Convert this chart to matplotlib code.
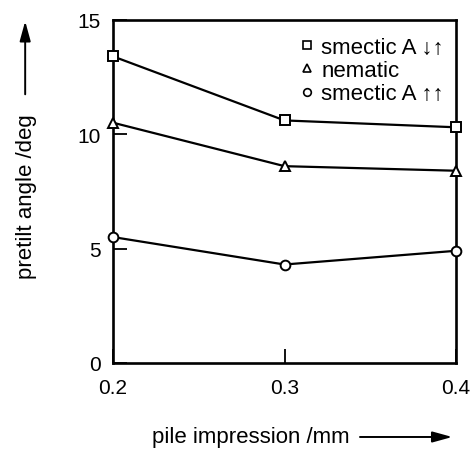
import matplotlib
matplotlib.use("Agg")
import matplotlib.pyplot as plt
from matplotlib.patches import FancyArrowPatch

plt.rcParams['font.family'] = ['Liberation Sans', 'DejaVu Sans']

pile = [0.2, 0.3, 0.4]
smectic_anti = [13.4, 10.6, 10.3]
nematic = [10.5, 8.6, 8.4]
smectic_para = [5.5, 4.3, 4.9]

labels = ['smectic A \u2193\u2191', 'nematic', 'smectic A \u2191\u2191']

fig = plt.figure(figsize=(4.75, 4.52), dpi=100)
ax = fig.add_axes([0.238, 0.195, 0.722, 0.759])

style = dict(color='black', lw=1.6, mfc='white', mec='black', mew=1.4, ms=7,
             clip_on=False, zorder=3)
ax.plot(pile, smectic_anti, marker='s', **style)
ax.plot(pile, nematic, marker='^', **style)
ax.plot(pile, smectic_para, marker='o', **style)

ax.set_xlim(0.2, 0.4)
ax.set_ylim(0, 15)
ax.set_xticks([0.2, 0.3, 0.4])
ax.set_xticklabels(['0.2', '0.3', '0.4'])
ax.set_yticks([0, 5, 10, 15])
ax.tick_params(direction='in', length=10, width=1.3, labelsize=15)
ax.tick_params(axis='y', pad=9)
ax.tick_params(axis='x', pad=11)
for s in ax.spines.values():
    s.set_linewidth(1.9)

# markers only in the legend
h = [plt.Line2D([], [], ls='none', marker=m, mfc='white', mec='black', mew=1.2, ms=5.5)
     for m in ['s', '^', 'o']]
ax.legend(h, labels, loc='upper right', bbox_to_anchor=(0.965, 0.95),
          frameon=False, fontsize=16, handletextpad=0.3, labelspacing=0.1,
          borderaxespad=0.0, borderpad=0.0, handlelength=0.7)

fig.text(0.055, 0.564, 'pretilt angle /deg', rotation=90, ha='center',
         va='center', fontsize=16)
fig.text(0.528, 0.031, 'pile impression /mm', ha='center', va='center',
         fontsize=16)

arrow = dict(arrowstyle='-|>,head_length=0.8,head_width=0.22', color='black',
             lw=1.4, mutation_scale=15)
fig.add_artist(FancyArrowPatch((0.053, 0.783), (0.053, 0.957),
               transform=fig.transFigure, **arrow))
fig.add_artist(FancyArrowPatch((0.752, 0.031), (0.958, 0.031),
               transform=fig.transFigure, **arrow))

fig.savefig('out.png', dpi=100)
